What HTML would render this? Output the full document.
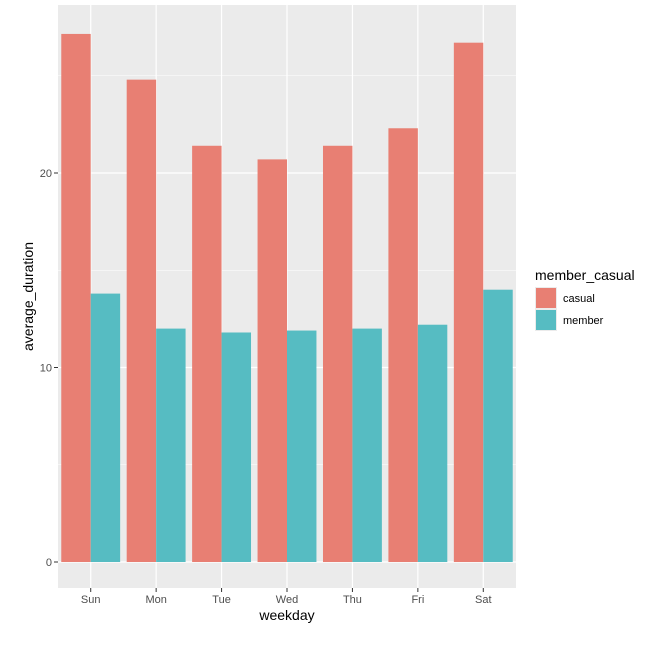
<!DOCTYPE html>
<html><head><meta charset="utf-8"><style>
body{margin:0;background:#fff;font-family:"Liberation Sans",Arial,sans-serif}
</style></head><body>
<svg id="chart" width="654" height="644" xmlns="http://www.w3.org/2000/svg"></svg>
<script>
const categories=["Sun","Mon","Tue","Wed","Thu","Fri","Sat"];
const casualValues=[27.15,24.8,21.4,20.7,21.4,22.3,26.7];
const memberValues=[13.8,12.0,11.8,11.9,12.0,12.2,14.0];
const yTicks=[0,10,20];
const seriesNames=["casual","member"];
const colors=["#F8766D","#00BFC4"];
const fills=["#e87f73","#56bcc2"];
const NS="http://www.w3.org/2000/svg";
const svg=document.getElementById('chart');
const px0=58,px1=516,py0=5,py1=588;
const y=v=>562-v*19.45;
const step=(px1-px0)/categories.length;
const xc=i=>px0+step*(i+0.5);
function el(t,a,p){const e=document.createElementNS(NS,t);for(const k in a)e.setAttribute(k,a[k]);(p||svg).appendChild(e);return e;}
const panel=el('rect',{x:px0,y:py0,width:px1-px0,height:py1-py0,fill:'#ebebeb'});

const grid=el('g',{});

for(let i=0;i<yTicks.length;i++){
 const m=yTicks[i]+5; if(y(m)>py0) el('line',{x1:px0,x2:px1,y1:y(m),y2:y(m),stroke:'#fff','stroke-width':0.6},grid);
 el('line',{x1:px0,x2:px1,y1:y(yTicks[i]),y2:y(yTicks[i]),stroke:'#fff','stroke-width':1.2},grid);
}
categories.forEach((c,i)=>el('line',{x1:xc(i),x2:xc(i),y1:py0,y2:py1,stroke:'#fff','stroke-width':1.2},grid));
const bw=step*0.9/2;
[casualValues,memberValues].forEach((vals,s)=>{
 vals.forEach((v,i)=>{
  const r=el('rect',{x:xc(i)-bw+s*bw,y:y(v),width:bw,height:y(0)-y(v),fill:fills[s]});
  
  
 });
});
yTicks.forEach(t=>{
 el('line',{x1:px0-4,x2:px0,y1:y(t),y2:y(t),stroke:'#333'});
 const tx=el('text',{x:px0-6,y:y(t)+4,'text-anchor':'end','font-size':11,fill:'#4d4d4d'});tx.textContent=t;
 
});
categories.forEach((c,i)=>{
 el('line',{x1:xc(i),x2:xc(i),y1:py1,y2:py1+4,stroke:'#333'});
 const tx=el('text',{x:xc(i),y:py1+15,'text-anchor':'middle','font-size':11,fill:'#4d4d4d'});tx.textContent=c;
 
});
const xt=el('text',{x:(px0+px1)/2,y:620,'text-anchor':'middle','font-size':14,fill:'#000'});xt.textContent='weekday';

const yt=el('text',{x:0,y:0,transform:`translate(33,${(py0+py1)/2}) rotate(-90)`,'text-anchor':'middle','font-size':14,fill:'#000'});yt.textContent='average_duration';

const lg=el('g',{});

const lt=el('text',{x:535,y:280,'font-size':14,fill:'#000'},lg);lt.textContent='member_casual';
seriesNames.forEach((n,s)=>{
 const g=el('g',{},lg);
 
 el('rect',{x:535,y:287+s*22,width:22,height:22,fill:'#ebebeb'},g);
 el('rect',{x:536,y:288+s*22,width:20,height:20,fill:fills[s]},g);
 const t=el('text',{x:563,y:302+s*22,'font-size':11,fill:'#000'},g);t.textContent=n;
});
</script>
</body></html>
